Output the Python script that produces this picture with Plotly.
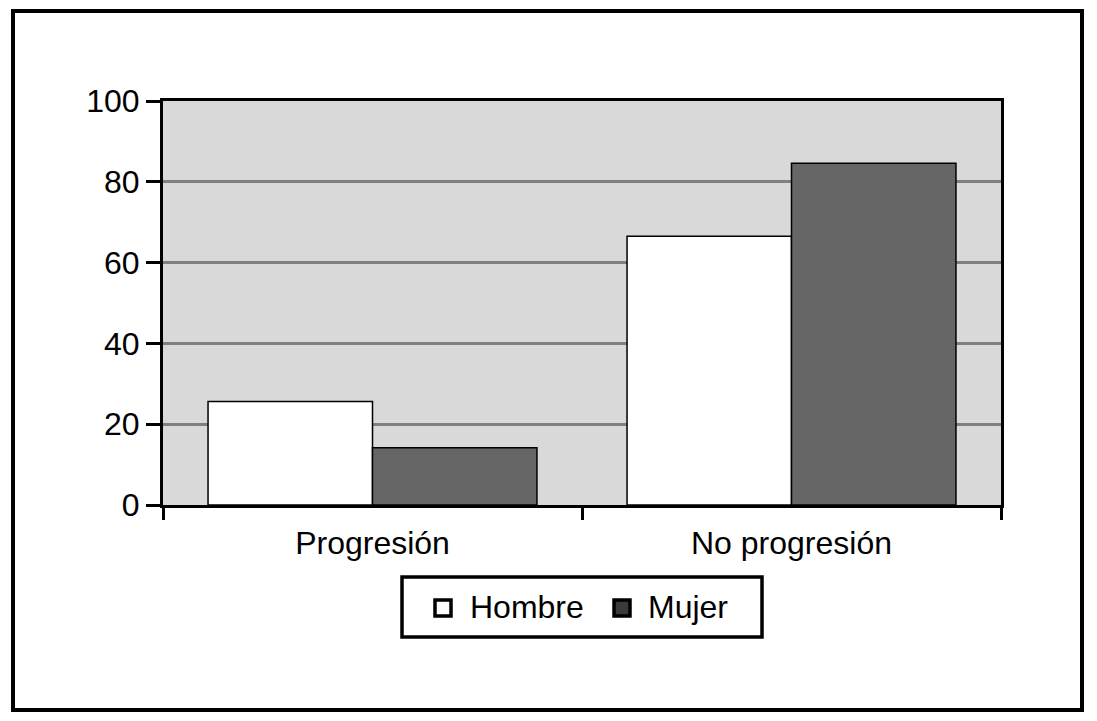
import plotly.graph_objects as go

categories = ["Progresión", "No progresión"]
series_names = ["Hombre", "Mujer"]
hombre = [25.6, 66.5]
mujer = [14.2, 84.6]
y_ticks = [0, 20, 40, 60, 80, 100]

FONT = "Liberation Sans, Arial, Helvetica, sans-serif"
FS = 32
COL_H = "#FFFFFF"
COL_M = "#666666"

# page offset (browser body margin)
OFF = 8
W, H = 1097 - OFF, 721 - OFF
L, T = 163 - OFF, 101 - OFF
R = W - (1001 - OFF)
B = H - (505 - OFF)
pw = W - L - R
ph = H - T - B


def px_x(p):
    return (p - OFF - L) / pw


def px_y(p):
    return (H - B - (p - OFF)) / ph


fig = go.Figure()
fig.add_trace(go.Bar(name=series_names[0], x=categories, y=hombre,
                     marker=dict(color=COL_H, line=dict(color="#000000", width=1.5))))
fig.add_trace(go.Bar(name=series_names[1], x=categories, y=mujer,
                     marker=dict(color=COL_M, line=dict(color="#000000", width=1.5))))

fig.update_layout(
    width=W, height=H,
    margin=dict(l=L, r=R, t=T, b=B, autoexpand=False),
    paper_bgcolor="#FFFFFF",
    plot_bgcolor="#D9D9D9",
    barmode="group",
    bargap=0.215,
    bargroupgap=0,
    font=dict(family=FONT, size=FS, color="#000000"),
    showlegend=False,
    xaxis=dict(showline=True, linecolor="#000000", linewidth=3, mirror=True,
               ticks="outside", ticklen=12, tickwidth=3, tickcolor="#000000",
               tickson="boundaries", showgrid=False, zeroline=False,
               ticklabelstandoff=8,
               tickfont=dict(family=FONT, size=FS)),
    yaxis=dict(range=[0, 100], tickvals=y_ticks, showline=True, linecolor="#000000",
               linewidth=3, mirror=True, ticks="outside", ticklen=14, tickwidth=3,
               tickcolor="#000000", showgrid=True, gridcolor="#808080", gridwidth=2.5,
               zeroline=False, tickfont=dict(family=FONT, size=FS)),
)

# outer frame
fig.add_shape(type="rect", xref="paper", yref="paper",
              x0=px_x(13), x1=px_x(1082), y0=px_y(710), y1=px_y(11),
              line=dict(color="#000000", width=4), fillcolor="rgba(0,0,0,0)", layer="above")

# legend box
fig.add_shape(type="rect", xref="paper", yref="paper",
              x0=px_x(402), x1=px_x(762), y0=px_y(637), y1=px_y(577),
              line=dict(color="#000000", width=3.5), fillcolor="#FFFFFF", layer="above")

legend_items = [
    (series_names[0], COL_H, 435, 470),
    (series_names[1], "#3A3A3A", 614, 648),
]
for name, col, sx, tx in legend_items:
    fig.add_shape(type="rect", xref="paper", yref="paper",
                  x0=px_x(sx), x1=px_x(sx + 16), y0=px_y(616), y1=px_y(600),
                  line=dict(color="#000000", width=3.5), fillcolor=col, layer="above")
    fig.add_annotation(x=px_x(tx - 2), y=px_y(607), xref="paper", yref="paper",
                       text=name, showarrow=False, xanchor="left", yanchor="middle",
                       font=dict(family=FONT, size=FS, color="#000000"))

fig.write_html("out.html")
